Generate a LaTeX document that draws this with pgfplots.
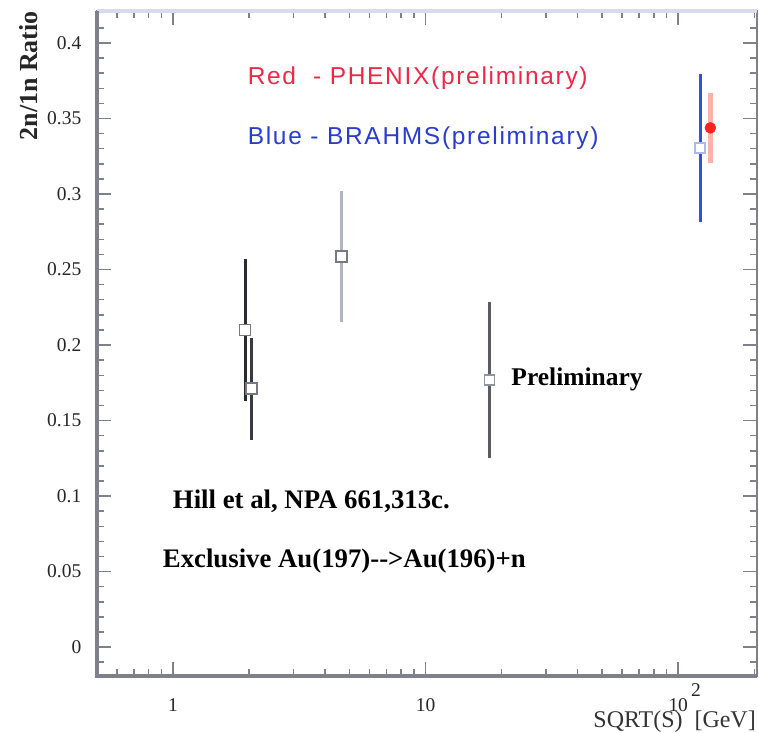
\documentclass[border=0pt]{standalone}
\usepackage{fontspec}
\setmainfont{Liberation Serif}
\newfontfamily\lsans[LetterSpace=7]{Liberation Sans}
\usepackage{pgfplots}
\pgfplotsset{compat=1.18}
\definecolor{axgray}{RGB}{128,128,138}
\definecolor{topline}{RGB}{218,218,238}
\definecolor{bar1}{RGB}{42,42,48}
\definecolor{bar2}{RGB}{58,58,68}
\definecolor{bar3}{RGB}{176,180,194}
\definecolor{bar4}{RGB}{90,90,98}
\definecolor{bluebar}{RGB}{48,80,224}
\definecolor{redbar}{RGB}{255,176,168}
\definecolor{redmark}{RGB}{255,32,32}
\definecolor{redtext}{RGB}{240,40,70}
\definecolor{bluetext}{RGB}{40,60,210}
\definecolor{mkgray}{RGB}{120,120,132}
\definecolor{mkblue}{RGB}{170,185,240}
\begin{document}
\begin{tikzpicture}
\begin{axis}[
  scale only axis, width=661pt, height=666pt,
  xmode=log, xmin=0.5, xmax=205,
  ymin=-0.0192, ymax=0.4212,
  xtick={1,10,100},
  xticklabels={1,10,{10\rlap{\smash{\raisebox{0.75em}{\,2}}}}},
  minor xtick={0.6,0.7,0.8,0.9,2,3,4,5,6,7,8,9,20,30,40,50,60,70,80,90,200},
  ytick={0,0.05,0.1,0.15,0.2,0.25,0.3,0.35,0.4},
  yticklabels={0,0.05,0.1,0.15,0.2,0.25,0.3,0.35,0.4},
  minor ytick={-0.01,0.01,0.02,0.03,0.04,0.06,0.07,0.08,0.09,0.11,0.12,0.13,0.14,0.16,0.17,0.18,0.19,0.21,0.22,0.23,0.24,0.26,0.27,0.28,0.29,0.31,0.32,0.33,0.34,0.36,0.37,0.38,0.39,0.41},
  tick align=inside,
  major tick length=14pt, minor tick length=7pt,
  every tick/.style={axgray, line width=1.5pt},
  axis line style={axgray, line width=2pt},
  yticklabel style={font=\fontsize{19.5}{22}\selectfont, text=black!85, xshift=-12pt},
  xticklabel style={font=\fontsize{19.5}{22}\selectfont, text=black!85, inner sep=1pt, yshift=-21pt},
  clip=false,
  error bars/y dir=both, error bars/y explicit,
  error bars/error mark=none,
]
% bounding frame matching reference image
\path (rel axis cs:-0.1467,-0.0841) rectangle (rel axis cs:1.0015,1.0165);
\draw[topline, line width=3.5pt] (rel axis cs:0,1) -- (rel axis cs:1,1);
\draw[axgray, line width=4pt] (rel axis cs:0,1) -- (rel axis cs:0,0) -- (rel axis cs:1,0);

\addplot[only marks, mark=square*, mark size=5.5pt,
  mark options={draw=mkgray, fill=white, line width=1.8pt},
  error bars/error bar style={bar1, line width=3pt}]
  coordinates {(1.93,0.210) +- (0,0.047)};
\addplot[only marks, mark=square*, mark size=5.5pt,
  mark options={draw=mkgray, fill=white, line width=1.8pt},
  error bars/error bar style={bar2, line width=3pt}]
  coordinates {(2.05,0.171) +- (0,0.034)};
\addplot[only marks, mark=square*, mark size=5.5pt,
  mark options={draw=mkgray, fill=white, line width=1.8pt},
  error bars/error bar style={bar3, line width=3pt}]
  coordinates {(4.66,0.2585) +- (0,0.0435)};
\addplot[only marks, mark=square*, mark size=5pt,
  mark options={draw=mkgray!80, fill=white, line width=1.8pt},
  error bars/error bar style={bar4, line width=3pt}]
  coordinates {(17.9,0.177) +- (0,0.0515)};
\addplot[only marks, mark=square*, mark size=5pt,
  mark options={draw=mkblue, fill=white, line width=1.5pt},
  error bars/error bar style={bluebar, line width=3pt}]
  coordinates {(122,0.3306) +- (0,0.049)};
\addplot[only marks, mark=*, mark size=5.5pt,
  mark options={draw=redmark, fill=redmark},
  error bars/error bar style={redbar, line width=5pt}]
  coordinates {(134,0.3438) +- (0,0.0232)};

\node[anchor=west, inner sep=0pt, text=redtext, font=\lsans\fontsize{24.5}{28}\selectfont] at (rel axis cs:0.2284,0.8994) {Red~~-~PHENIX(preliminary)};
\node[anchor=west, inner sep=0pt, text=bluetext, font=\lsans\fontsize{24.5}{28}\selectfont] at (rel axis cs:0.2284,0.8093) {Blue~-~BRAHMS(preliminary)};
\node[anchor=west, inner sep=0pt, font=\bfseries\fontsize{25.5}{30}\selectfont] at (rel axis cs:0.6278,0.4459) {Preliminary};
\node[anchor=west, inner sep=0pt, font=\bfseries\fontsize{26.8}{30}\selectfont] at (rel axis cs:0.115,0.2628) {Hill et al, NPA 661,313c.};
\node[anchor=west, inner sep=0pt, font=\bfseries\fontsize{26.8}{30}\selectfont] at (rel axis cs:0.0998,0.1727) {Exclusive Au(197)-{}->Au(196)+n};
\node[anchor=east, inner sep=0pt, rotate=90, font=\bfseries\fontsize{26}{30}\selectfont, text=black!85] at (rel axis cs:-0.104,1.0) {2n/1n Ratio};
\node[anchor=east, inner sep=0pt, font=\fontsize{24}{28}\selectfont, text=black!80] at (rel axis cs:0.9985,-0.068) {SQRT(S)~~[GeV]};
\end{axis}
\end{tikzpicture}
\end{document}
